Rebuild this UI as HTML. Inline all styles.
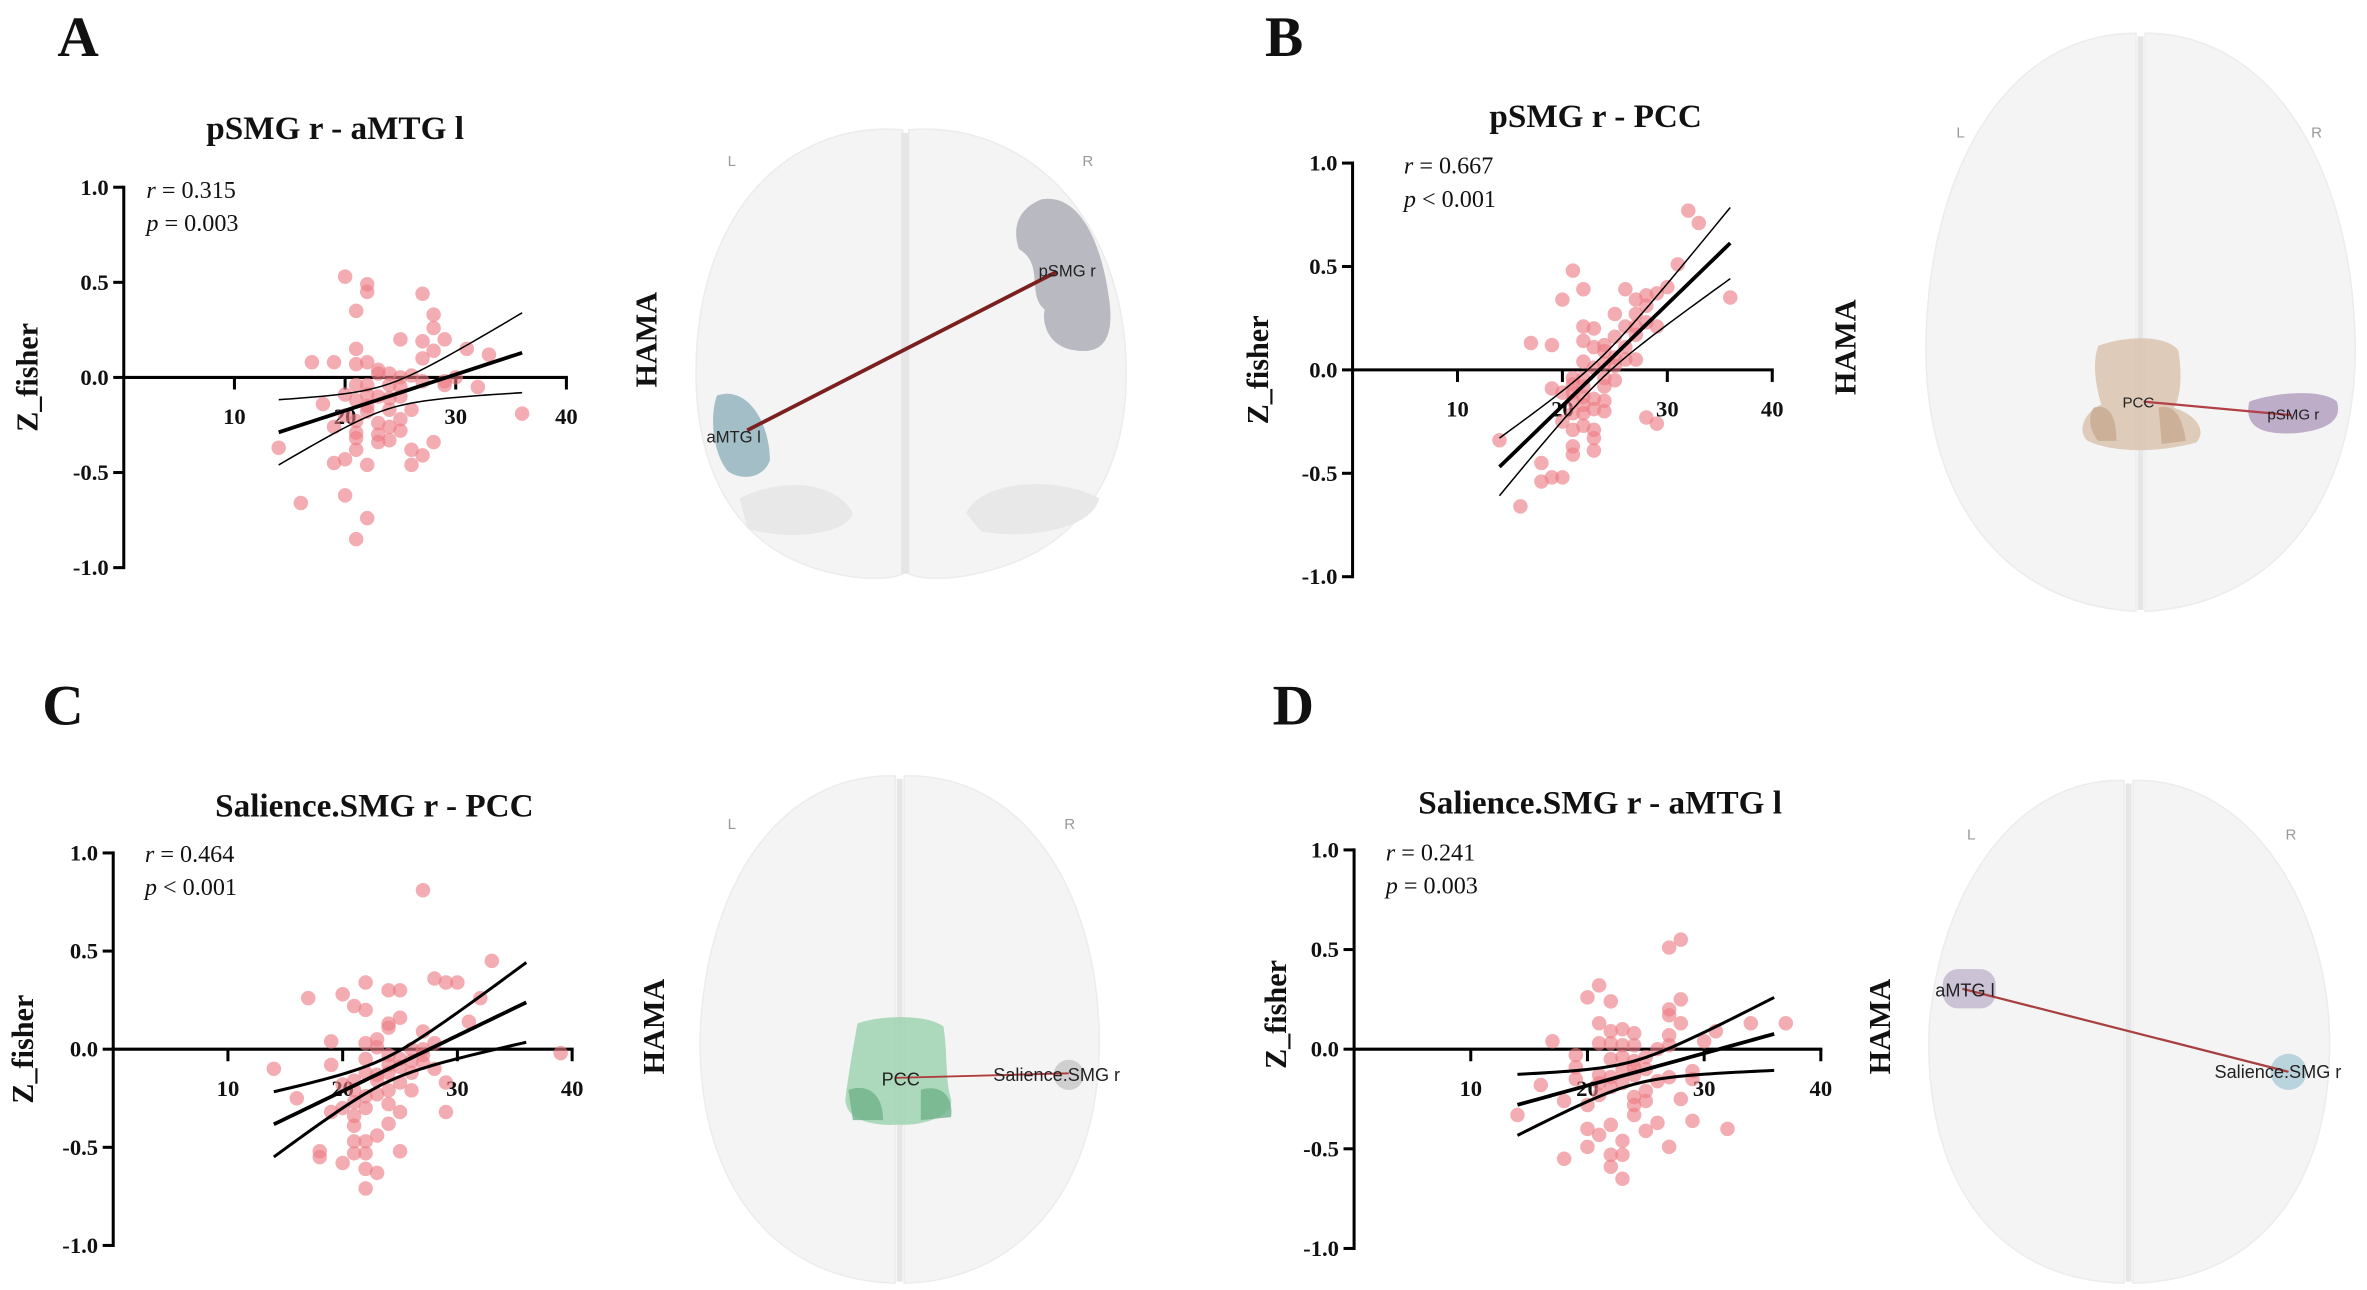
<!DOCTYPE html>
<html><head><meta charset="utf-8"><style>
html,body{margin:0;padding:0;background:#fff;}
svg{display:block;}
.tk{font-family:"Liberation Serif",serif;font-weight:bold;font-size:15px;fill:#111;}
.ttl{font-family:"Liberation Serif",serif;font-weight:bold;font-size:22px;fill:#111;}
.st{font-family:"Liberation Serif",serif;font-size:16px;fill:#111;}
.al{font-family:"Liberation Serif",serif;font-weight:bold;font-size:20px;fill:#111;}
.let{font-family:"Liberation Serif",serif;font-weight:bold;font-size:38px;fill:#111;}
.bl{font-family:"Liberation Sans",sans-serif;font-size:10px;fill:#999;}
.rl{font-family:"Liberation Sans",sans-serif;font-size:11px;fill:#222;}
</style></head><body>
<svg id="fig" width="2367" height="1290" viewBox="0 0 1568 854.5" xmlns="http://www.w3.org/2000/svg">
<g id="brains">
 <g>
  <path d="M598,86 C530,80 470,130 462,225 C456,300 480,360 545,378 C575,386 592,383 598,380 Z" fill="#f4f4f4" stroke="#ececec"/>
  <path d="M602,86 C670,80 735,130 745,225 C752,300 725,360 655,378 C625,386 608,383 602,380 Z" fill="#f4f4f4" stroke="#ececec"/>
  <path d="M490,330 C520,315 555,320 565,340 C560,355 520,358 495,350 Z" fill="#e8e8e8"/>
  <path d="M640,340 C650,318 700,315 728,330 C725,350 680,358 650,352 Z" fill="#e8e8e8"/>
  <rect x="597" y="88" width="5" height="292" fill="#e6e6e6"/>
  <path d="M690,132 C715,128 730,160 735,200 C738,225 730,235 712,232 C695,230 690,215 692,205 C680,195 692,175 675,165 C670,150 675,138 690,132 Z" fill="#b9bac1"/>
  <path d="M475,262 C495,255 510,280 510,305 C505,318 490,318 482,312 C472,300 470,275 475,262 Z" fill="#a3bec6"/>
  <line x1="495" y1="285" x2="700" y2="180" stroke="#7b1f1f" stroke-width="2.5"/>
  <text class="rl" x="688" y="183">pSMG r</text>
  <text class="rl" x="468" y="293">aMTG l</text>
  <text class="bl" x="482" y="110">L</text><text class="bl" x="717" y="110">R</text>
 </g>
 <g>
  <path d="M1415,22 C1330,22 1280,110 1276,220 C1272,320 1320,400 1415,405 Z" fill="#f4f4f4" stroke="#ececec"/>
  <path d="M1421,22 C1505,22 1556,110 1560,220 C1564,320 1515,400 1421,405 Z" fill="#f4f4f4" stroke="#ececec"/>
  <rect x="1416" y="24" width="4" height="380" fill="#e6e6e6"/>
  <path d="M1390,229 C1410,222 1435,222 1443,232 C1446,250 1444,265 1440,270 C1455,275 1462,285 1455,293 C1430,300 1400,300 1383,292 C1375,285 1382,272 1392,268 C1388,255 1386,240 1390,229 Z" fill="#d9c3ae" opacity="0.85"/>
  <path d="M1387,270 C1395,268 1402,272 1402,292 L1390,292 C1384,285 1383,276 1387,270 Z" fill="#c7a98f" opacity="0.8"/>
  <path d="M1430,270 C1438,268 1445,272 1448,292 L1432,294 Z" fill="#c7a98f" opacity="0.8"/>
  <path d="M1490,266 C1510,259 1540,258 1548,266 C1552,278 1542,285 1520,287 C1500,288 1486,284 1490,266 Z" fill="#b8a5c4" opacity="0.9"/>
  <line x1="1420" y1="266" x2="1518" y2="275" stroke="#b04045" stroke-width="1.5"/>
  <text class="rl" style="font-size:10px" x="1406" y="270">PCC</text>
  <text class="rl" style="font-size:10px" x="1502" y="278">pSMG r</text>
  <text class="bl" x="1296" y="91">L</text><text class="bl" x="1531" y="91">R</text>
 </g>
 <g>
  <path d="M593,514 C520,512 470,580 464,680 C460,780 510,848 593,850 Z" fill="#f4f4f4" stroke="#ececec"/>
  <path d="M599,514 C672,512 724,580 728,680 C732,780 680,848 599,850 Z" fill="#f4f4f4" stroke="#ececec"/>
  <rect x="594" y="516" width="4" height="333" fill="#e6e6e6"/>
  <path d="M568,678 C585,672 615,672 625,680 C628,700 626,715 630,728 C632,740 610,746 595,745 C578,746 560,742 560,728 C562,712 565,695 568,678 Z" fill="#9fd2b0" opacity="0.85"/>
  <path d="M562,722 C572,718 585,722 585,742 L565,742 Z M610,722 C622,718 632,725 630,740 L610,742 Z" fill="#6fb38a" opacity="0.8"/>
  <circle cx="708" cy="712" r="10" fill="#cfcfcf"/>
  <line x1="593" y1="714" x2="708" y2="711" stroke="#b03a3a" stroke-width="1.2"/>
  <text class="rl" style="font-size:12px" x="584" y="719">PCC</text>
  <text class="rl" style="font-size:12px" x="658" y="716">Salience.SMG r</text>
  <text class="bl" x="482" y="549">L</text><text class="bl" x="705" y="549">R</text>
 </g>
 <g>
  <path d="M1407,517 C1335,515 1285,590 1278,680 C1274,780 1320,848 1407,850 Z" fill="#f4f4f4" stroke="#ececec"/>
  <path d="M1413,517 C1485,515 1538,590 1543,680 C1547,780 1500,848 1413,850 Z" fill="#f4f4f4" stroke="#ececec"/>
  <rect x="1408" y="519" width="4" height="330" fill="#e6e6e6"/>
  <rect x="1287" y="642" width="35" height="26" rx="10" fill="#cbc2d6"/>
  <circle cx="1516" cy="710" r="12" fill="#bad4dd"/>
  <line x1="1300" y1="655" x2="1516" y2="710" stroke="#a84040" stroke-width="1.5"/>
  <text class="rl" style="font-size:12px" x="1282" y="660">aMTG l</text>
  <text class="rl" style="font-size:12px" x="1467" y="714">Salience.SMG r</text>
  <text class="bl" x="1303" y="556">L</text><text class="bl" x="1514" y="556">R</text>
 </g>
</g>
<g id="charts"></g>
</svg>
<script>
const xA=[20,22,22,27,21,28,28,25,27,29,21,28,31,33,27,17,19,21,22,23,23,24,25,26,27,29,30,29,32,21,22,24,25,20,22,23,24,25,21,18,22,26,36,20,22,24,25,21,23,19,24,25,21,23,24,21,23,28,14,26,21,27,20,19,26,22,20,16,22,21];
const yA=[0.53,0.49,0.45,0.44,0.35,0.33,0.26,0.20,0.19,0.20,0.15,0.14,0.15,0.12,0.10,0.08,0.08,0.07,0.08,0.04,0.02,0.02,0.0,0.01,-0.02,-0.02,0.0,-0.04,-0.05,-0.04,-0.04,-0.04,-0.05,-0.09,-0.09,-0.10,-0.11,-0.10,-0.12,-0.14,-0.15,-0.17,-0.19,-0.20,-0.18,-0.17,-0.22,-0.23,-0.24,-0.26,-0.26,-0.28,-0.29,-0.30,-0.33,-0.32,-0.34,-0.34,-0.37,-0.38,-0.38,-0.41,-0.43,-0.45,-0.46,-0.46,-0.62,-0.66,-0.74,-0.85];
const xB=[32,33,31,21,22,26,20,27,28,29,30,36,28,27,25,22,23,26,27,28,29,27,25,22,17,19,23,24,24,26,25,26,27,22,23,24,25,21,22,24,25,21,22,24,19,20,21,22,23,24,21,22,23,24,21,22,20,28,29,22,21,23,23,14,21,21,23,18,18,19,20,16];
const yB=[0.77,0.71,0.51,0.48,0.39,0.39,0.34,0.34,0.36,0.37,0.40,0.35,0.31,0.27,0.27,0.21,0.20,0.21,0.21,0.23,0.21,0.17,0.16,0.14,0.13,0.12,0.11,0.12,0.09,0.11,0.06,0.05,0.05,0.04,0.01,0.03,0.02,-0.04,-0.04,-0.04,-0.05,-0.07,-0.08,-0.08,-0.09,-0.11,-0.11,-0.13,-0.14,-0.15,-0.15,-0.17,-0.19,-0.20,-0.21,-0.21,-0.25,-0.23,-0.26,-0.27,-0.29,-0.29,-0.33,-0.34,-0.37,-0.41,-0.39,-0.45,-0.54,-0.52,-0.52,-0.66];
const xC=[27,33,28,29,30,22,24,25,17,20,32,21,22,25,31,24,24,27,23,19,22,23,27,28,26,39,24,27,25,22,26,27,19,24,25,28,14,22,26,23,24,21,23,25,29,20,21,24,26,23,22,16,21,24,22,20,19,25,29,21,21,24,23,21,22,18,18,21,22,25,20,22,23,22];
const yC=[0.81,0.45,0.36,0.34,0.34,0.34,0.30,0.30,0.26,0.28,0.26,0.22,0.20,0.16,0.14,0.13,0.11,0.09,0.05,0.04,0.03,0.01,0.0,0.03,0.0,-0.02,-0.03,-0.03,-0.05,-0.05,-0.06,-0.07,-0.08,-0.08,-0.09,-0.10,-0.10,-0.12,-0.12,-0.13,-0.12,-0.16,-0.16,-0.17,-0.17,-0.18,-0.21,-0.21,-0.21,-0.23,-0.24,-0.25,-0.27,-0.28,-0.30,-0.30,-0.32,-0.32,-0.32,-0.34,-0.39,-0.38,-0.44,-0.47,-0.47,-0.52,-0.55,-0.53,-0.53,-0.52,-0.58,-0.61,-0.63,-0.71];
const xD=[28,27,21,20,22,28,27,27,28,34,37,21,22,23,24,31,30,27,17,21,22,23,24,26,27,19,22,23,24,25,19,24,25,23,29,21,22,24,27,29,19,16,21,22,23,26,25,21,18,24,28,25,20,24,14,24,26,22,29,32,20,21,25,27,20,23,22,23,18,22,23];
const yD=[0.55,0.51,0.32,0.26,0.24,0.25,0.20,0.17,0.13,0.13,0.13,0.13,0.09,0.10,0.08,0.09,0.04,0.07,0.04,0.03,0.03,0.02,0.02,0.0,0.02,-0.03,-0.05,-0.04,-0.06,-0.04,-0.09,-0.09,-0.10,-0.10,-0.11,-0.13,-0.14,-0.13,-0.14,-0.15,-0.15,-0.18,-0.17,-0.19,-0.17,-0.16,-0.21,-0.23,-0.26,-0.24,-0.25,-0.26,-0.28,-0.28,-0.33,-0.33,-0.37,-0.38,-0.36,-0.40,-0.40,-0.43,-0.41,-0.49,-0.49,-0.46,-0.53,-0.53,-0.55,-0.59,-0.65];
const xTicks=[10,20,30,40];
const yTicks=[1.0,0.5,0.0,-0.5,-1.0];
const yTickLabels=["1.0","0.5","0.0","-0.5","-1.0"];
const titles=["pSMG r - aMTG l","pSMG r - PCC","Salience.SMG r - PCC","Salience.SMG r - aMTG l"];
const rVals=["0.315","0.667","0.464","0.241"];
const pVals=["= 0.003","< 0.001","< 0.001","= 0.003"];
const letters=["A","B","C","D"];

const NS="http://www.w3.org/2000/svg";
const panels=[
 {xs:xA,ys:yA,x0:82,sx:7.33,y0:250,sy:126,title:[222,92],stat:[97,131],zl:[18,250],ha:[428,225],let:[38,37],ciW:1,key:"a"},
 {xs:xB,ys:yB,x0:896,sx:6.95,y0:245,sy:137,title:[1057,84],stat:[930,115],zl:[833,245],ha:[1222,230],let:[838,37],ciW:1,key:"b"},
 {xs:xC,ys:yC,x0:75,sx:7.6,y0:695,sy:130,title:[248,541],stat:[96,571],zl:[15,695],ha:[433,680],let:[28,480],ciW:2,key:"c"},
 {xs:xD,ys:yD,x0:897,sx:7.73,y0:695,sy:132,title:[1060,539],stat:[918,570],zl:[845,672],ha:[1245,680],let:[843,480],ciW:2,key:"d"}
];
const root=document.getElementById("charts");
function mk(tag,attrs,parent,txt){const e=document.createElementNS(NS,tag);for(const k in attrs)e.setAttribute(k,attrs[k]);if(txt!==undefined)e.textContent=txt;(parent||root).appendChild(e);return e;}

panels.forEach((P,i)=>{
 const g=mk("g",{});
 
 
 const X=v=>P.x0+v*P.sx, Y=v=>P.y0-v*P.sy;
 const L=mk("text",{x:P.let[0],y:P.let[1],class:"let"},g,letters[i]);
 
 
 const T=mk("text",{x:P.title[0],y:P.title[1],class:"ttl","text-anchor":"middle"},g,titles[i]);
 
 
 const ya=mk("line",{x1:X(0),x2:X(0),y1:Y(1)-1,y2:Y(-1)+1,stroke:"#000","stroke-width":2},g);
 
 
 yTicks.forEach((t,k)=>{
  mk("line",{x1:X(0)-7,x2:X(0),y1:Y(t),y2:Y(t),stroke:"#000","stroke-width":2},g);
  const tl=mk("text",{x:X(0)-10,y:Y(t)+5,class:"tk","text-anchor":"end"},g,yTickLabels[k]);
  
  
 });
 const xa=mk("line",{x1:X(0),x2:X(40)+1,y1:Y(0),y2:Y(0),stroke:"#000","stroke-width":2},g);
 
 
 xTicks.forEach(t=>{
  mk("line",{x1:X(t),x2:X(t),y1:Y(0),y2:Y(0)+8,stroke:"#000","stroke-width":2},g);
  const tl=mk("text",{x:X(t),y:Y(0)+31,class:"tk","text-anchor":"middle"},g,String(t));
  
  
 });
 P.xs.forEach((xv,k)=>{
  const c=mk("circle",{cx:X(xv),cy:Y(P.ys[k]),r:4.8,fill:"#ec7a82","fill-opacity":0.62},g);
  
  
 });
 const n=P.xs.length;let mx=0,my=0;P.xs.forEach((v,k)=>{mx+=v;my+=P.ys[k];});mx/=n;my/=n;
 let sxx=0,sxy=0;P.xs.forEach((v,k)=>{sxx+=(v-mx)*(v-mx);sxy+=(v-mx)*(P.ys[k]-my);});
 const b=sxy/sxx,a=my-b*mx;let sse=0;P.xs.forEach((v,k)=>{const r=P.ys[k]-(a+b*v);sse+=r*r;});
 const s=Math.sqrt(sse/(n-2));
 const fit=[],up=[],lo=[];
 for(let q=0;q<=40;q++){const xv=14+22*q/40;const yv=a+b*xv;const h=1.99*s*Math.sqrt(1/n+(xv-mx)*(xv-mx)/sxx);
  fit.push(X(xv)+","+Y(yv));up.push(X(xv)+","+Y(yv+h));lo.push(X(xv)+","+Y(yv-h));}
 const fl=mk("polyline",{points:fit.join(" "),fill:"none",stroke:"#000","stroke-width":2.5},g);
 
 
 const u=mk("polyline",{points:up.join(" "),fill:"none",stroke:"#000","stroke-width":P.ciW},g);
 
 
 const l=mk("polyline",{points:lo.join(" "),fill:"none",stroke:"#000","stroke-width":P.ciW},g);
 
 
 const s1=mk("text",{x:P.stat[0],y:P.stat[1],class:"st"},g);
 
 
 mk("tspan",{"font-style":"italic"},s1,"r");mk("tspan",{},s1," = "+rVals[i]);
 const s2=mk("text",{x:P.stat[0],y:P.stat[1]+22,class:"st"},g);
 
 
 mk("tspan",{"font-style":"italic"},s2,"p");mk("tspan",{},s2," "+pVals[i]);
 const z=mk("text",{x:P.zl[0],y:P.zl[1],class:"al","text-anchor":"middle",transform:"rotate(-90 "+P.zl[0]+" "+P.zl[1]+")",dy:"7"},g,"Z_fisher");
 
 
 const hm=mk("text",{x:P.ha[0],y:P.ha[1],class:"al","text-anchor":"middle",transform:"rotate(-90 "+P.ha[0]+" "+P.ha[1]+")",dy:"7"},g,"HAMA");
 
 
});
</script>
</body></html>
